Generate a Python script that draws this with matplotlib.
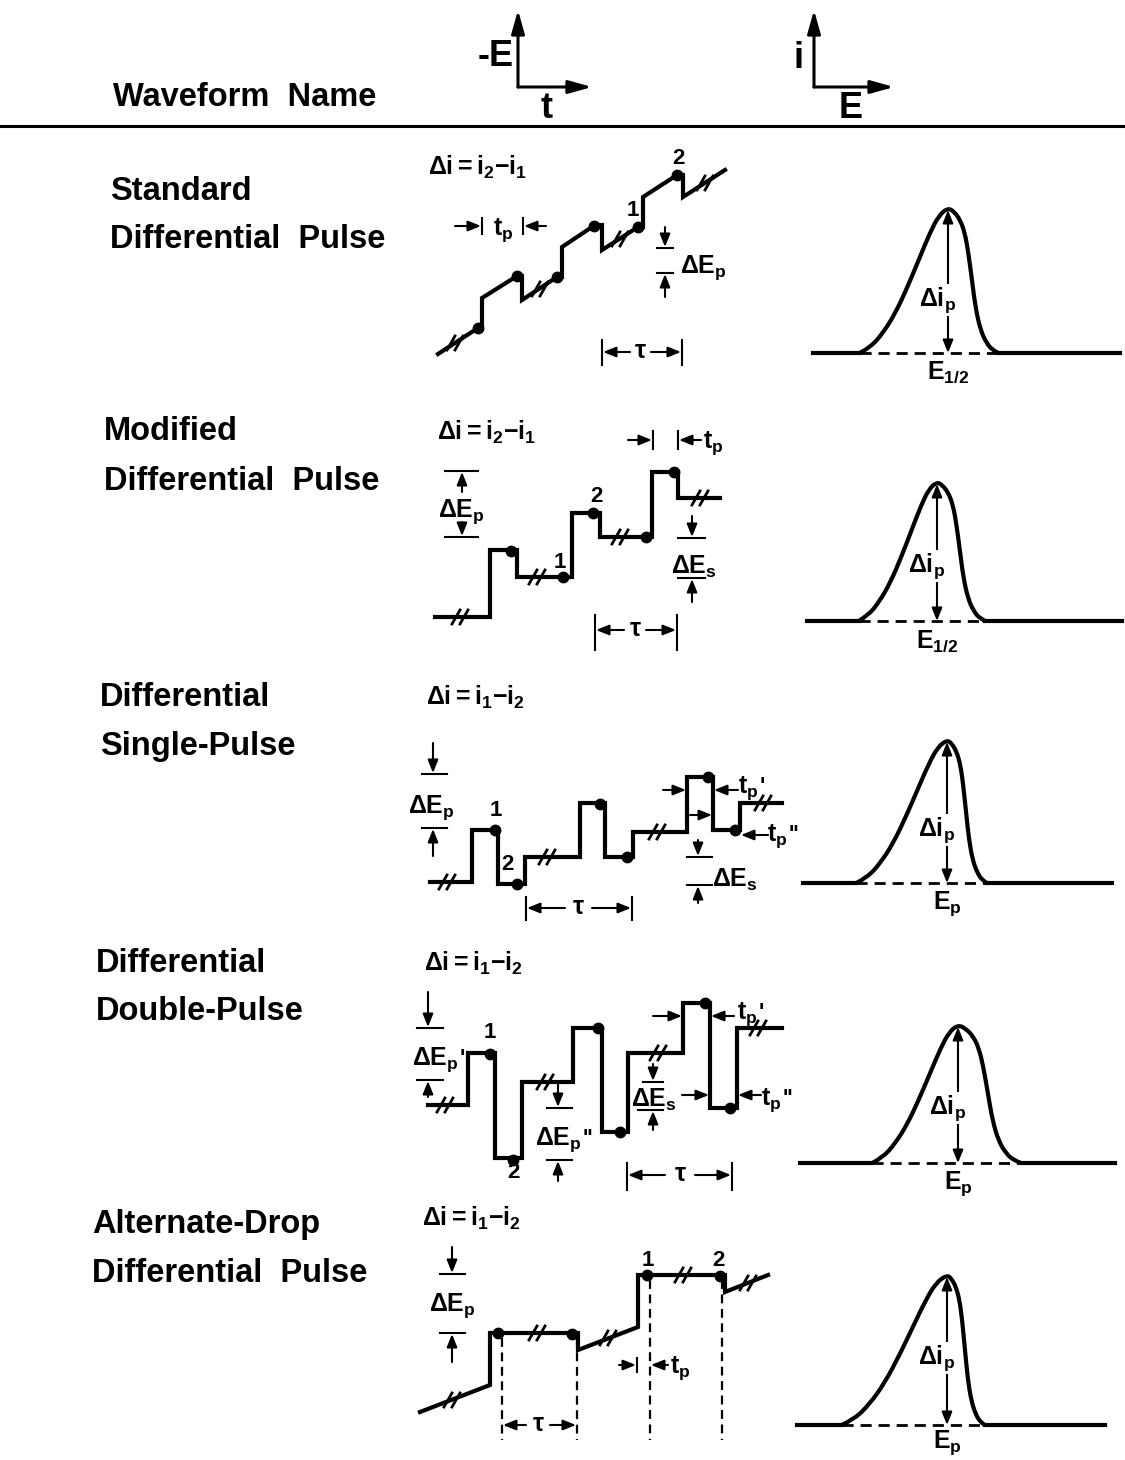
import numpy as np
import matplotlib.pyplot as plt
from matplotlib.path import Path
from matplotlib.patches import PathPatch

plt.rcParams['font.family'] = ['Liberation Sans', 'DejaVu Sans']
plt.rcParams['font.weight'] = 'bold'
plt.rcParams['mathtext.fontset'] = 'custom'
plt.rcParams['mathtext.rm'] = 'Liberation Sans:bold'
plt.rcParams['mathtext.it'] = 'Liberation Sans:bold'
plt.rcParams['mathtext.bf'] = 'Liberation Sans:bold'
plt.rcParams['mathtext.default'] = 'rm'

W, H = 1125, 1460
LW = 3.0     # waveform stroke
ALW = 1.5    # dimension lines / arrows
FS_NAME = 23.5
FS_AX = 26
FS_ANN = 18
FS_NUM = 16

# ---- row names ----
NAMES_1 = ["Standard", "Modified", "Differential", "Differential", "Alternate-Drop"]
NAMES_2 = ["Differential  Pulse", "Differential  Pulse", "Single-Pulse",
           "Double-Pulse", "Differential  Pulse"]
NAME_X = [110, 104, 100, 96, 92]
NAME_Y1 = [192, 432, 697, 963, 1224]
NAME_Y2 = [240, 482, 746, 1012, 1273]

DELTA_I = [r'$\Delta i{=}i_2{-}i_1$', r'$\Delta i{=}i_2{-}i_1$', r'$\Delta i{=}i_1{-}i_2$',
           r'$\Delta i{=}i_1{-}i_2$', r'$\Delta i{=}i_1{-}i_2$']
DELTA_I_X = [428, 437, 426, 424, 422]
DELTA_I_Y = [167, 432, 697, 963, 1218]

# ---- potential waveforms (vertices), sample dots and break marks ----
WAVE_1 = [(438, 354), (478, 328), (482, 328), (482, 298), (517, 276), (522, 276),
          (522, 300), (557, 277), (562, 277), (562, 247), (595, 225), (602, 225),
          (602, 250), (638, 227), (643, 227), (643, 197), (677, 175), (683, 175),
          (683, 197), (725, 170)]
DOTS_1 = [(478, 328), (517, 276), (557, 277), (594, 226), (638, 227), (677, 175)]
BREAKS_1 = [(455, 343), (540, 289), (620, 239), (705, 183)]

WAVE_2 = [(435, 617), (490, 617), (490, 550), (517, 550), (517, 577), (572, 577),
          (572, 513), (600, 513), (600, 537), (652, 537), (652, 472), (678, 472),
          (678, 498), (720, 498)]
DOTS_2 = [(511, 551), (563, 577), (593, 513), (646, 537), (674, 472)]
BREAKS_2 = [(460, 617), (537, 577), (620, 537), (700, 498)]

WAVE_3 = [(430, 882), (472, 882), (472, 830), (498, 830), (498, 884), (525, 884),
          (525, 857), (580, 857), (580, 803), (605, 803), (605, 857), (633, 857),
          (633, 832), (687, 832), (687, 777), (713, 777), (713, 830), (740, 830),
          (740, 803), (782, 803)]
DOTS_3 = [(495, 830), (517, 884), (600, 804), (627, 857), (708, 777), (735, 830)]
BREAKS_3 = [(447, 882), (547, 857), (657, 832), (763, 803)]

WAVE_4 = [(428, 1105), (468, 1105), (468, 1053), (495, 1053), (495, 1158), (522, 1158),
          (522, 1082), (573, 1082), (573, 1028), (602, 1028), (602, 1132), (628, 1132),
          (628, 1053), (683, 1053), (683, 1003), (710, 1003), (710, 1108), (737, 1108),
          (737, 1028), (782, 1028)]
DOTS_4 = [(490, 1054), (513, 1160), (598, 1028), (620, 1132), (705, 1003), (730, 1108)]
BREAKS_4 = [(445, 1105), (545, 1082), (658, 1053), (758, 1028)]

WAVE_5 = [(420, 1412), (490, 1385), (490, 1333), (578, 1333), (578, 1350), (638, 1327),
          (638, 1275), (725, 1275), (725, 1292), (768, 1275)]
DOTS_5 = [(498, 1333), (572, 1334), (647, 1275), (720, 1276)]
BREAKS_5 = [(452, 1400), (537, 1333), (608, 1338), (683, 1275), (748, 1283)]

WAVES = [WAVE_1, WAVE_2, WAVE_3, WAVE_4, WAVE_5]
DOTS = [DOTS_1, DOTS_2, DOTS_3, DOTS_4, DOTS_5]
BREAKS = [BREAKS_1, BREAKS_2, BREAKS_3, BREAKS_4, BREAKS_5]

# ---- current peaks ----
PEAK_X = [948, 937, 947, 958, 947]
PEAK_TOP = [208, 482, 740, 1025, 1275]
PEAK_BASE = [353, 621, 883, 1163, 1425]
BASE_L = [813, 807, 803, 800, 797]
BASE_R = [1120, 1122, 1112, 1115, 1105]
HW_L = [36, 32, 37, 35, 43]
HW_R = [24, 23, 19, 30, 18]
PEAK_LABEL = [r'$E_{1/2}$', r'$E_{1/2}$', r'$E_p$', r'$E_p$', r'$E_p$']
PEAK_LABEL_Y = [372, 641, 904, 1184, 1443]
DIP_Y = [300, 566, 830, 1108, 1358]

# normalised peak outline (u in half-widths, v in peak heights)
PROF_UL = [-2.45, -2.15, -1.8, -1.45, -1.1, -0.8, -0.5, -0.25, 0.0]
PROF_VL = [0.0, 0.04, 0.14, 0.28, 0.47, 0.65, 0.83, 0.95, 1.0]
PROF_UR = [0.25, 0.5, 0.7, 0.85, 1.0, 1.15, 1.35, 1.6, 1.85, 2.1]
PROF_VR = [0.975, 0.92, 0.83, 0.69, 0.50, 0.31, 0.16, 0.07, 0.02, 0.0]

fig = plt.figure(figsize=(W / 100, H / 100), dpi=100)
ax = fig.add_axes([0, 0, 1, 1])
ax.set_xlim(0, W)
ax.set_ylim(H, 0)
ax.axis('off')


def arrow(x0, y0, x1, y1, lw=ALW, hl=0.55, hw=0.22, ms=14):
    ax.annotate('', xy=(x1, y1), xytext=(x0, y0),
                arrowprops=dict(arrowstyle=f'-|>,head_length={hl},head_width={hw}',
                                lw=lw, color='k', shrinkA=0, shrinkB=0,
                                mutation_scale=ms))


def hbar(x0, x1, y):
    ax.plot([x0, x1], [y, y], color='k', lw=ALW)


def vbar(x, y0, y1):
    ax.plot([x, x], [y0, y1], color='k', lw=ALW)


def brk(x, y):
    for dx in (-4, 4):
        ax.plot([x + dx - 4, x + dx + 4], [y + 7, y - 7], color='k', lw=2.0)


def txt(x, y, s, fs=FS_ANN, ha='left', **kw):
    return ax.text(x, y, s, fontsize=fs, ha=ha, va='center', zorder=5, **kw)


def primed(x, y, s, n=1, ha='left'):
    # symbol with subscript p, followed by one or two primes raised above it
    t = txt(x, y, s, ha=ha)
    ax.annotate("'" * n, xy=(1, 1), xycoords=t, xytext=(0.5, -1.5),
                textcoords='offset points', fontsize=FS_ANN - 2,
                ha='left', va='top', zorder=5)


# ---- header ----
txt(113, 97, "Waveform  Name", fs=FS_NAME)
ax.plot([0, W], [126, 126], color='k', lw=2.2)
arrow(518, 87, 518, 10, lw=2.2, hl=1.0, hw=0.28)
arrow(518, 87, 592, 87, lw=2.2, hl=1.0, hw=0.28)
txt(514, 57, "-E", fs=FS_AX, ha='right')
txt(547, 108, "t", fs=FS_AX, ha='center')
arrow(814, 87, 814, 10, lw=2.2, hl=1.0, hw=0.28)
arrow(814, 87, 894, 87, lw=2.2, hl=1.0, hw=0.28)
txt(799, 58, "i", fs=FS_AX, ha='center')
txt(851, 108, "E", fs=FS_AX, ha='center')

# ---- rows: names, waveforms, peaks ----
for r in range(5):
    txt(NAME_X[r], NAME_Y1[r], NAMES_1[r], fs=FS_NAME)
    txt(NAME_X[r], NAME_Y2[r], NAMES_2[r], fs=FS_NAME)
    txt(DELTA_I_X[r], DELTA_I_Y[r], DELTA_I[r])

    wx, wy = zip(*WAVES[r])
    ax.plot(wx, wy, color='k', lw=LW, solid_joinstyle='miter')
    dx, dy = zip(*DOTS[r])
    ax.plot(dx, dy, 'o', color='k', ms=7.5, zorder=4)
    for bx, by in BREAKS[r]:
        brk(bx, by)

    x0, top, base = PEAK_X[r], PEAK_TOP[r], PEAK_BASE[r]
    h = base - top
    xs = [x0 + u * HW_L[r] for u in PROF_UL] + [x0 + u * HW_R[r] for u in PROF_UR]
    ys = [base - v * h for v in PROF_VL] + [base - v * h for v in PROF_VR]
    pts = list(zip(xs, ys))
    verts, codes = [pts[0]], [Path.MOVETO]
    for k in range(1, len(pts) - 1):
        end = pts[-1] if k == len(pts) - 2 else ((pts[k][0] + pts[k + 1][0]) / 2,
                                                 (pts[k][1] + pts[k + 1][1]) / 2)
        verts += [pts[k], end]
        codes += [Path.CURVE3, Path.CURVE3]
    ax.add_patch(PathPatch(Path(verts, codes), fill=False, lw=LW, capstyle='round'))
    ax.plot([BASE_L[r], xs[0]], [base, base], color='k', lw=LW)
    ax.plot([xs[-1], BASE_R[r]], [base, base], color='k', lw=LW)
    ax.plot([xs[0], xs[-1]], [base, base], color='k', lw=2.0, ls=(0, (4, 2.5)))
    arrow(x0, DIP_Y[r], x0, top + 2)
    arrow(x0, DIP_Y[r], x0, base)
    txt(x0 - 10, DIP_Y[r], r'$\Delta i_p$', ha='center',
        bbox=dict(facecolor='white', edgecolor='none', pad=0.5))
    txt(x0, PEAK_LABEL_Y[r], PEAK_LABEL[r], ha='center')

# ---- row 1 annotations ----
txt(633, 210, "1", fs=FS_NUM, ha='center')
txt(678, 158, "2", fs=FS_NUM, ha='center')
arrow(455, 226, 481, 226)
vbar(482, 218, 234)
txt(493, 230, r'$t_p$')
vbar(523, 218, 234)
arrow(546, 226, 524, 226)
arrow(665, 227, 665, 247)
hbar(657, 673, 248)
hbar(657, 673, 273)
arrow(665, 297, 665, 274)
txt(680, 268, r'$\Delta E_p$')
vbar(602, 340, 365)
vbar(682, 340, 365)
arrow(630, 352, 603, 352)
arrow(651, 352, 681, 352)
txt(640, 351, r'$\tau$', ha='center')

# ---- row 2 annotations ----
txt(560, 562, "1", fs=FS_NUM, ha='center')
txt(596, 497, "2", fs=FS_NUM, ha='center')
hbar(445, 478, 471)
arrow(462, 492, 462, 472)
txt(461, 512, r'$\Delta E_p$', ha='center')
arrow(462, 522, 462, 536)
hbar(445, 478, 537)
arrow(628, 440, 652, 440)
vbar(653, 431, 449)
vbar(678, 431, 449)
arrow(701, 440, 679, 440)
txt(703, 443, r'$t_p$')
arrow(692, 516, 692, 537)
hbar(678, 705, 538)
txt(694, 567, r'$\Delta E_s$', ha='center')
hbar(678, 705, 578)
arrow(692, 602, 692, 579)
vbar(595, 615, 650)
vbar(677, 615, 650)
arrow(624, 630, 596, 630)
arrow(646, 630, 676, 630)
txt(635, 629, r'$\tau$', ha='center')

# ---- row 3 annotations ----
txt(496, 811, "1", fs=FS_NUM, ha='center')
txt(507, 864, "2", fs=FS_NUM, ha='center')
arrow(433, 743, 433, 773)
hbar(422, 447, 774)
txt(431, 808, r'$\Delta E_p$', ha='center')
hbar(422, 447, 828)
arrow(433, 856, 433, 829)
vbar(526, 897, 920)
vbar(632, 897, 920)
arrow(565, 908, 527, 908)
arrow(592, 908, 631, 908)
txt(578, 907, r'$\tau$', ha='center')
arrow(663, 790, 686, 790)
arrow(738, 790, 714, 790)
primed(738, 788, r"$t_p$")
arrow(690, 815, 712, 815)
arrow(768, 835, 741, 835)
primed(767, 836, r"$t_p$", 2)
arrow(698, 840, 698, 856)
hbar(687, 712, 857)
txt(712, 880, r'$\Delta E_s$')
hbar(687, 712, 885)
arrow(698, 903, 698, 886)

# ---- row 4 annotations ----
txt(490, 1032, "1", fs=FS_NUM, ha='center')
txt(513, 1172, "2", fs=FS_NUM, ha='center')
arrow(428, 992, 428, 1027)
hbar(417, 443, 1028)
primed(412, 1060, r"$\Delta E_p$")
hbar(417, 443, 1080)
arrow(428, 1097, 428, 1081)
arrow(558, 1083, 558, 1107)
hbar(547, 572, 1108)
primed(535, 1140, r"$\Delta E_p$", 2)
hbar(547, 572, 1160)
arrow(558, 1181, 558, 1161)
arrow(653, 1064, 653, 1081)
hbar(643, 663, 1082)
txt(654, 1100, r'$\Delta E_s$', ha='center')
hbar(638, 663, 1110)
arrow(653, 1130, 653, 1111)
arrow(653, 1016, 682, 1016)
arrow(734, 1016, 711, 1016)
primed(737, 1014, r"$t_p$")
arrow(682, 1095, 709, 1095)
arrow(761, 1095, 738, 1095)
primed(761, 1100, r"$t_p$", 2)
vbar(627, 1163, 1190)
vbar(732, 1163, 1190)
arrow(665, 1175, 628, 1175)
arrow(695, 1175, 731, 1175)
txt(680, 1174, r'$\tau$', ha='center')

# ---- row 5 annotations ----
txt(648, 1261, "1", fs=FS_NUM, ha='center')
txt(718, 1261, "2", fs=FS_NUM, ha='center')
for xd, y0 in [(502, 1338), (577, 1338), (650, 1280), (722, 1280)]:
    ax.plot([xd, xd], [y0, 1440], color='k', lw=1.6, ls=(0, (4, 2.5)))
arrow(526, 1425, 503, 1425)
arrow(550, 1425, 576, 1425)
txt(538, 1424, r'$\tau$', ha='center')
arrow(619, 1365, 636, 1365)
vbar(637, 1358, 1372)
arrow(668, 1365, 651, 1365)
txt(670, 1368, r'$t_p$')
arrow(452, 1247, 452, 1273)
hbar(440, 465, 1274)
txt(452, 1306, r'$\Delta E_p$', ha='center')
hbar(440, 465, 1333)
arrow(452, 1362, 452, 1334)

fig.savefig('out.png', dpi=100, facecolor='white')
